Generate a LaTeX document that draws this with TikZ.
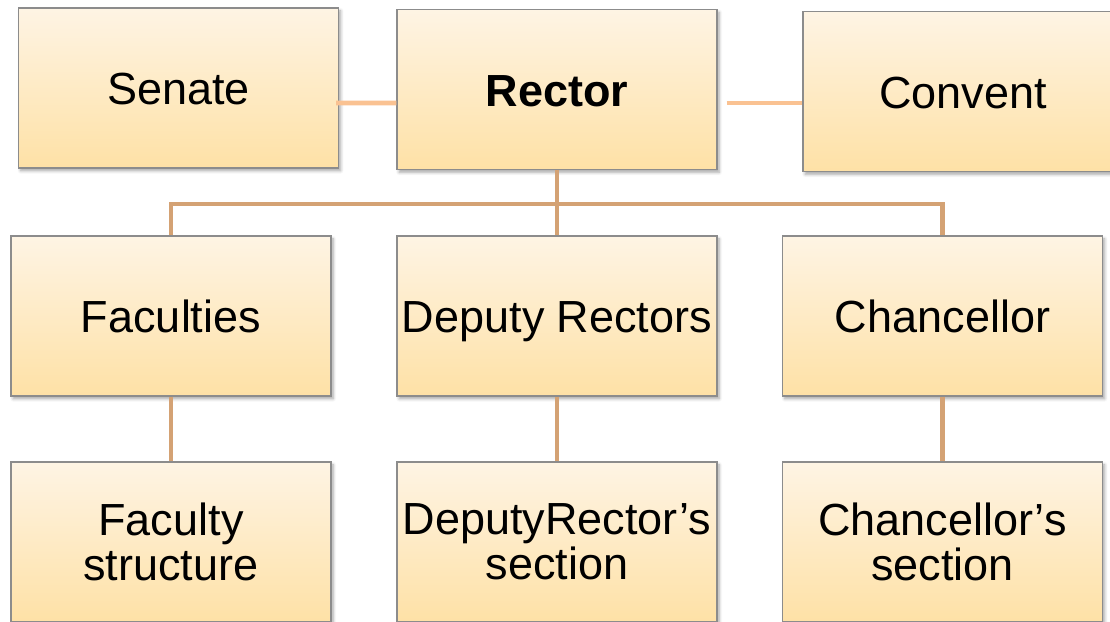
\documentclass[tikz,border=0pt]{standalone}
\usepackage{fontspec}
\setmainfont{Liberation Sans}
\usetikzlibrary{calc,positioning,shadows.blur}
\definecolor{boxtop}{RGB}{254,244,228}
\definecolor{boxbot}{RGB}{254,225,166}
\definecolor{boxedge}{RGB}{140,140,140}
\definecolor{treeline}{RGB}{212,162,116}
\definecolor{sideline}{RGB}{250,194,146}
\tikzset{%
  unit/.style = { draw=boxedge, line width=0.8pt, top color=boxtop, bottom color=boxbot,
                  minimum width=8cm, minimum height=4cm, inner sep=2pt, align=center,
                  font=\fontsize{32}{32}\selectfont,
                  blur shadow={shadow xshift=1.5pt, shadow yshift=-2pt, shadow blur steps=6, shadow opacity=35} },
  oneline/.style = { text height=27pt, text depth=3pt },
  tree/.style = { draw=treeline, line width=3.5pt },
  side/.style = { draw=sideline, line width=3.5pt }
}

\begin{document}
\begin{tikzpicture}[x=0.025cm, y=-0.025cm]

  \useasboundingbox (0,0) rectangle (1110,622);

  % TOP ROW
  \node[unit,oneline] (senate) at (178.5,88) {Senate};
  \node[unit,oneline] (rector) at (557,89.5) {\textbf{Rector}};
  \node[unit,oneline] (convent) at (963,91.5) {Convent};

  % MIDDLE ROW
  \node[unit,oneline] (faculties) at (171,316) {Faculties};
  \node[unit,oneline] (deputy) at (557,316) {Deputy Rectors};
  \node[unit,oneline] (chancellor) at (942.5,316) {Chancellor};

  % BOTTOM ROW
  \node[unit] (facstruct) at (171,542) {Faculty\\structure};
  \node[unit] (depsection) at (557,542) {DeputyRector’s\\section};
  \node[unit] (chansection) at (942.5,542) {Chancellor’s\\section};

  % Side links
  \draw[side] ($(senate.east)+(-3,15)$) -- ($(rector.west)+(0,13.5)$);
  \draw[side] ($(rector.east)+(9,13.5)$) -- ($(convent.west)+(0,11.5)$);

  % Tree links
  \coordinate (bus) at (557,204);
  \draw[tree] (rector.south) -- (deputy.north);
  \draw[tree] (faculties.north) |- (bus) -| (chancellor.north);

  \draw[tree] (faculties.south) -- (facstruct.north);
  \draw[tree] (deputy.south) -- (depsection.north);
  \draw[tree] (chancellor.south) -- (chansection.north);

\end{tikzpicture}
\end{document}
